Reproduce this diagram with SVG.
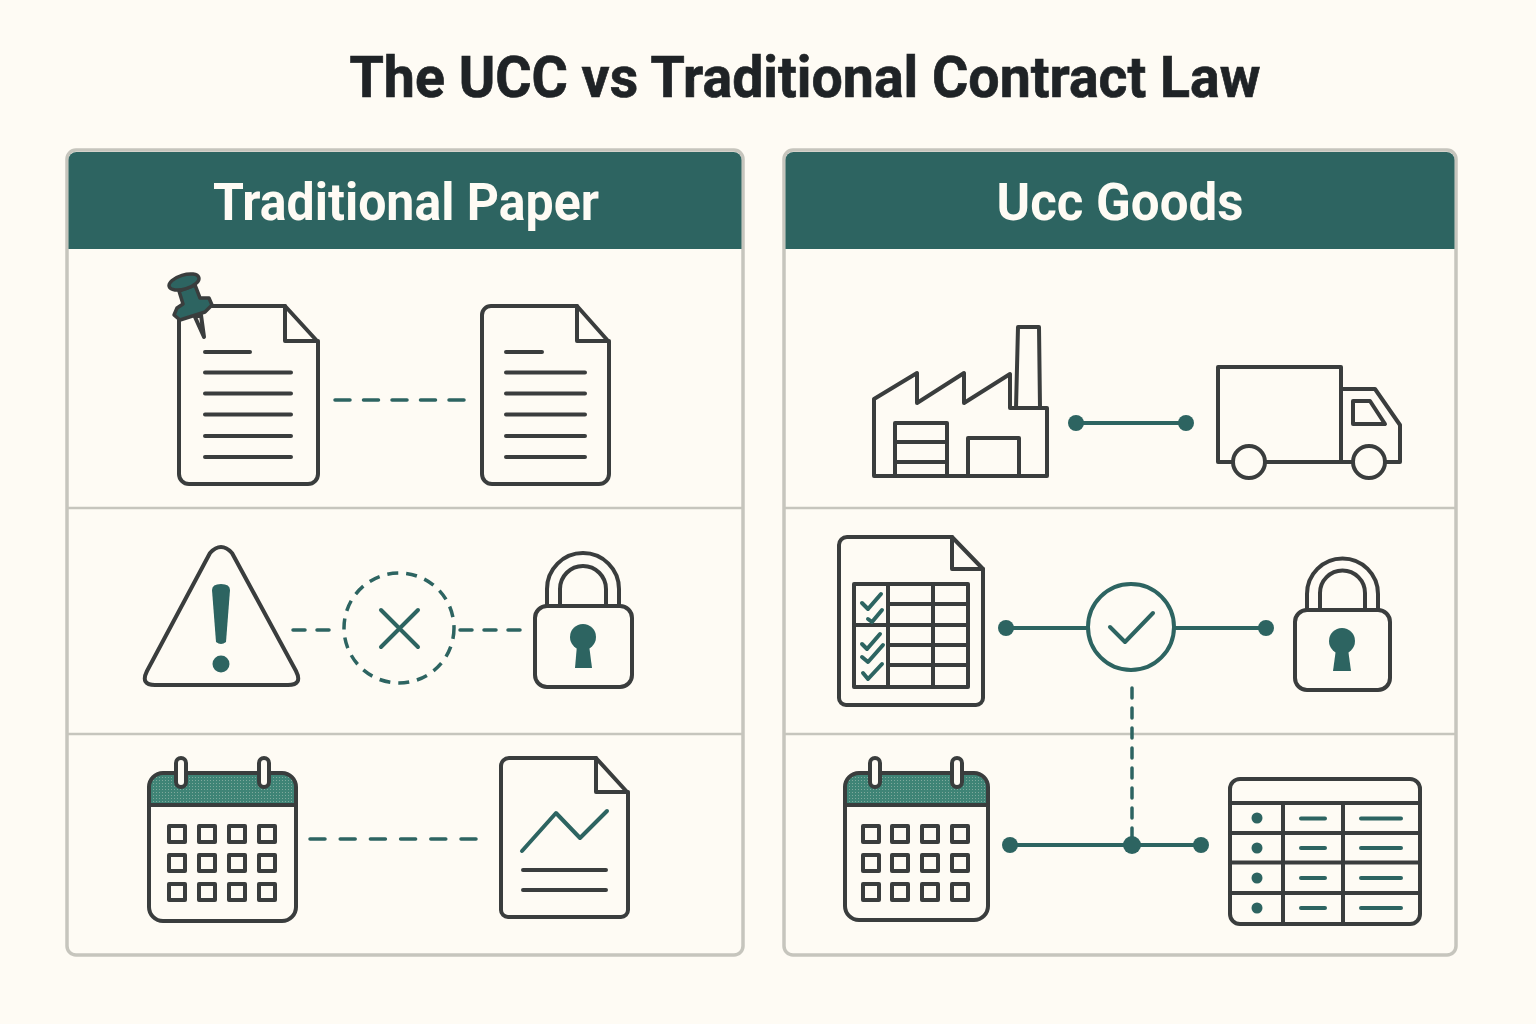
<svg xmlns="http://www.w3.org/2000/svg" width="1536" height="1024" viewBox="0 0 1536 1024">
<defs>
<style>
.o{fill:none;stroke:#3a3d3d;stroke-width:4;stroke-linejoin:round;stroke-linecap:round}
.w{fill:#fefbf4;stroke:#3a3d3d;stroke-width:4;stroke-linejoin:round;stroke-linecap:round}
.t{fill:none;stroke:#2d6461;stroke-width:4;stroke-linecap:round;stroke-linejoin:round}
.f{fill:#2d6461}
.c{fill:none;stroke:#2d6461;stroke-width:4}
.d{fill:none;stroke:#2d6461;stroke-width:3.5;stroke-linecap:round}
.p{fill:#fefbf4;stroke:#c6c5bd;stroke-width:3.5}
.r{stroke:#c6c5bd;stroke-width:2.5}
text{font-family:"Roboto","Liberation Sans",sans-serif;font-weight:700;text-anchor:middle}
</style>
<pattern id="dots" width="3" height="3" patternUnits="userSpaceOnUse"><rect width="3" height="3" fill="#3f8476"/><rect width="1" height="1" fill="#7fa99c"/></pattern>
</defs>
<rect width="1536" height="1024" fill="#fefbf4"/>
<text id="title" x="805" y="97" font-size="58" fill="#1f2326" stroke="#1f2326" stroke-width="0.7" textLength="911" lengthAdjust="spacingAndGlyphs">The UCC vs Traditional Contract Law</text>

<g id="panel-left">
<rect class="p" x="67" y="150" width="676" height="805" rx="9"/>
<path class="f" d="M68.500 160a8 8 0 0 1 8-8H733.500a8 8 0 0 1 8 8V249H68.500Z"/>
<line class="r" x1="68" y1="508" x2="742" y2="508"/>
<line class="r" x1="68" y1="734" x2="742" y2="734"/>
<text x="406" y="220" font-size="51" fill="#fefbf4" textLength="386" lengthAdjust="spacingAndGlyphs">Traditional Paper</text>
</g>
<g id="panel-right">
<rect class="p" x="784" y="150" width="672" height="805" rx="9"/>
<path class="f" d="M785.500 160a8 8 0 0 1 8-8H1446.500a8 8 0 0 1 8 8V249H785.500Z"/>
<line class="r" x1="785" y1="508" x2="1455" y2="508"/>
<line class="r" x1="785" y1="734" x2="1455" y2="734"/>
<text x="1120" y="220" font-size="51" fill="#fefbf4" textLength="247" lengthAdjust="spacingAndGlyphs">Ucc Goods</text>
</g>

<g id="connectors">
<line class="d" x1="335" y1="400" x2="464" y2="400" stroke-dasharray="15 13.500"/>
<line class="d" x1="293" y1="630" x2="329" y2="630" stroke-dasharray="12 12"/>
<line class="d" x1="460" y1="630" x2="520" y2="630" stroke-dasharray="12 12"/>
<line class="d" x1="310" y1="839" x2="476" y2="839" stroke-dasharray="15 15.200"/>
<line class="c" x1="1076" y1="423" x2="1186" y2="423"/>
<circle class="f" cx="1076" cy="423" r="8"/><circle class="f" cx="1186" cy="423" r="8"/>
<line class="c" x1="1006" y1="628" x2="1088" y2="628"/>
<line class="c" x1="1174" y1="628" x2="1266" y2="628"/>
<circle class="f" cx="1006" cy="628" r="8"/><circle class="f" cx="1266" cy="628" r="8"/>
<line class="d" x1="1132" y1="688" x2="1132" y2="845" stroke-dasharray="10 10"/>
<line class="c" x1="1010" y1="845" x2="1201" y2="845"/>
<circle class="f" cx="1010" cy="845" r="8"/><circle class="f" cx="1132" cy="845" r="9"/><circle class="f" cx="1201" cy="845" r="8"/>
</g>

<g id="doc-pinned">
<path class="o" d="M179 318V474a10 10 0 0 0 10 10H308a10 10 0 0 0 10-10V342L285 306H205"/>
<path class="o" d="M285 306V341H318"/>
<path class="o" d="M205 352H250M205 372.500H291M205 393.500H291M205 414.500H291M205 436H291M205 457H291"/>
<path class="w" d="M195 317L204 337L201 315Z"/>
<path class="f" d="M179 291L195 285L200 298L209 298L212 305L205 312L180 320L174 315L177 308L183 304Z" stroke="#3a3d3d" stroke-width="3.500" stroke-linejoin="round"/>
<ellipse class="f" cx="184" cy="282" rx="15.500" ry="7" transform="rotate(-17 184 282)" stroke="#3a3d3d" stroke-width="3.500"/>
</g>
<g id="doc-plain">
<path class="o" d="M482 315V474a10 10 0 0 0 10 10H599a10 10 0 0 0 10-10V342L577 306H491a9 9 0 0 0-9 9Z"/>
<path class="o" d="M577 306V341H609"/>
<path class="o" d="M506 352H542M506 372.500H585M506 393.500H585M506 414.500H585M506 436H585M506 457H585"/>
</g>
<g id="warning">
<path class="o" d="M210 553Q221 541 232 553L296 671Q303 685 288 685H155Q140 685 147 671Z"/>
<path class="f" d="M212 590Q212 584 221 584Q230 584 230 590L226 642Q221 646 216 642Z"/>
<circle class="f" cx="221" cy="664" r="8.500"/>
</g>
<g id="blocked">
<circle cx="399" cy="628" r="55" fill="none" stroke="#2d6461" stroke-width="3.500" stroke-dasharray="11 8"/>
<path class="t" d="M381 610L418 647M418 610L381 647"/>
</g>
<g id="lock-left">
<path class="o" d="M547 606V589a36 36 0 0 1 72 0V606M560 606V589a23 23 0 0 1 46 0V606"/>
<rect class="o" x="535" y="606" width="97" height="81" rx="12"/>
<circle class="f" cx="583" cy="637" r="13"/>
<path class="f" d="M577 645H589L592 668H575Z"/>
</g>
<g id="calendar-left">
<path fill="url(#dots)" d="M149 805V787a14 14 0 0 1 14-14H282a14 14 0 0 1 14 14V805Z"/>
<rect class="o" x="149" y="773" width="147" height="148" rx="14"/>
<line class="o" x1="149" y1="805" x2="296" y2="805"/>
<rect class="w" x="176" y="758" width="10" height="29" rx="5"/>
<rect class="w" x="259" y="758" width="10" height="29" rx="5"/>
<path class="o" d="M169 826h16v16h-16zM199 826h16v16h-16zM229 826h16v16h-16zM259 826h16v16h-16zM169 855h16v16h-16zM199 855h16v16h-16zM229 855h16v16h-16zM259 855h16v16h-16zM169 884h16v16h-16zM199 884h16v16h-16zM229 884h16v16h-16zM259 884h16v16h-16z"/>
</g>
<g id="doc-chart">
<path class="o" d="M501 766V910a7 7 0 0 0 7 7H621a7 7 0 0 0 7-7V793L596 758H509a8 8 0 0 0-8 8Z"/>
<path class="o" d="M596 758V792H628"/>
<polyline class="t" points="522,851 556,813 580,838 607,811"/>
<path class="o" d="M523 870H606M523 890H606"/>
</g>
<g id="factory">
<path class="o" d="M874 476V399L917 373V403L964 373V403L1010 374V408H1047V476Z"/>
<path class="o" d="M1016 408L1018 327H1039L1040 408"/>
<path class="o" d="M895 476V423H947V476M895 442H947M895 462H947M968 476V438H1019V476"/>
</g>
<g id="truck">
<path class="o" d="M1341 462H1233M1233 462H1218V367H1341V462M1341 389H1375L1400 425V462H1385M1353 462H1341"/>
<path class="o" d="M1353 401H1370L1385 424H1353Z"/>
<circle class="w" cx="1249" cy="462" r="16"/>
<circle class="w" cx="1369" cy="462" r="16"/>
</g>
<g id="doc-checklist">
<path class="o" d="M839 545V698a7 7 0 0 0 7 7H976a7 7 0 0 0 7-7V569L952 537H847a8 8 0 0 0-8 8Z"/>
<path class="o" d="M952 537V569H983"/>
<rect class="o" x="854" y="584" width="114" height="103"/>
<path class="o" d="M888 584V687M933 584V687M888 604H968M854 625H968M888 645H968M888 665H968"/>
<path class="t" d="M862 603L868 609L881 594M868 619L872 622L882 610M862 644L867 649L880 634M862 657L868 662L883 645M863 673L868 679L882 664"/>
</g>
<g id="approved">
<circle cx="1131" cy="627" r="43" fill="none" stroke="#2d6461" stroke-width="4"/>
<path class="t" d="M1110 627L1125 642L1153 613"/>
</g>
<g id="lock-right">
<path class="o" d="M1307 610V594a35.500 35.500 0 0 1 71 0V610M1320 610V593a22.500 22.500 0 0 1 45 0V610"/>
<rect class="o" x="1295" y="610" width="95" height="80" rx="12"/>
<circle class="f" cx="1342" cy="641" r="13"/>
<path class="f" d="M1336 649H1348L1351 671H1333Z"/>
</g>
<g id="calendar-right">
<path fill="url(#dots)" d="M845 805V787a14 14 0 0 1 14-14H974a14 14 0 0 1 14 14V805Z"/>
<rect class="o" x="845" y="773" width="143" height="147" rx="14"/>
<line class="o" x1="845" y1="805" x2="988" y2="805"/>
<rect class="w" x="870" y="758" width="10" height="29" rx="5"/>
<rect class="w" x="952" y="758" width="10" height="29" rx="5"/>
<path class="o" d="M863 826h16v16h-16zM892 826h16v16h-16zM922 826h16v16h-16zM952 826h16v16h-16zM863 855h16v16h-16zM892 855h16v16h-16zM922 855h16v16h-16zM952 855h16v16h-16zM863 884h16v16h-16zM892 884h16v16h-16zM922 884h16v16h-16zM952 884h16v16h-16z"/>
</g>
<g id="table">
<rect class="o" x="1230" y="779" width="190" height="145" rx="10"/>
<path class="o" d="M1230 803H1420M1230 833H1420M1230 862.500H1420M1230 893H1420M1283 803V924M1343 803V924"/>
<circle class="f" cx="1257" cy="818" r="5.500"/><circle class="f" cx="1257" cy="848" r="5.500"/><circle class="f" cx="1257" cy="878" r="5.500"/><circle class="f" cx="1257" cy="908" r="5.500"/>
<path class="t" d="M1301 818.500H1325M1301 848H1325M1301 878H1325M1301 908H1325M1361 818.500H1401M1361 848H1401M1361 878H1401M1361 908H1401"/>
</g>
</svg>
